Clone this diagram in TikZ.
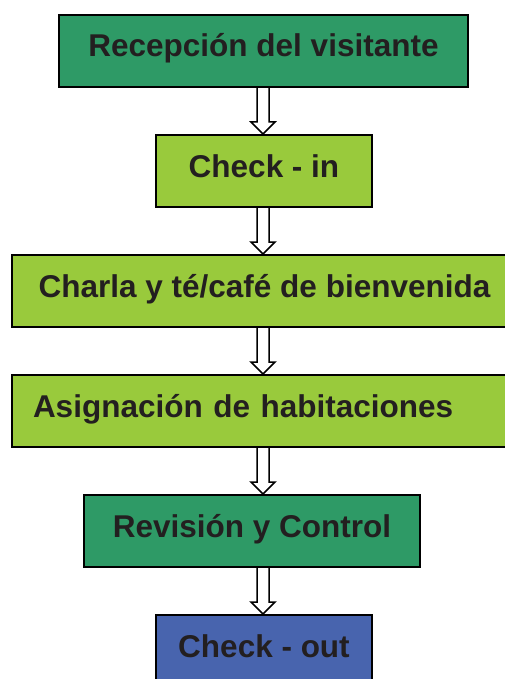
\documentclass[tikz,border=0pt]{standalone}
\usepackage{fontspec}
\setmainfont{Liberation Sans}
\usetikzlibrary{calc,backgrounds}
\definecolor{dgreen}{RGB}{46,154,102}
\definecolor{lgreen}{RGB}{153,202,60}
\definecolor{bblue}{RGB}{72,100,174}
\definecolor{txt}{RGB}{35,31,32}
\begin{document}
\begin{tikzpicture}[x=1pt,y=-1pt,
  box/.style={draw=black, line width=2pt, rectangle, minimum height=72pt, inner sep=0pt,
    text height=22pt, text depth=10pt, font=\fontsize{31.5}{36}\selectfont\bfseries,
    text=txt, anchor=north west},
  arr/.style={draw=black, line width=1.5pt, fill=white, line join=miter}]
\useasboundingbox (0,0) rectangle (505,679);
\coordinate (col) at (263,0);
\node[box, fill=dgreen, minimum width=409pt] (n1) at (58,14) {Recepción del visitante};
\node[box, fill=lgreen, minimum width=216pt] (n2) at (155,134) {Check - in};
\node[box, fill=lgreen, minimum width=505pt] (n3) at (11,254) {Charla y té/café de bienvenida};
\node[box, fill=lgreen, inner xsep=21pt, text width=463pt, align=left] (n4) at (11,374) {Asignación de habitaciones};
\node[box, fill=dgreen, minimum width=336pt] (n5) at (83,494) {Revisión y Control};
\node[box, fill=bblue, minimum width=216pt] (n6) at (155,614) {Check - out};
\begin{scope}[on background layer]
\foreach \a/\b in {n1/n2,n2/n3,n3/n4,n4/n5,n5/n6} {
  \draw[arr] ($(col |- \a.south)+(-6,0)$) -- ($(col |- \b.north)+(-6,-12)$)
    -- ($(col |- \b.north)+(-12,-12)$) -- (col |- \b.north)
    -- ($(col |- \b.north)+(12,-12)$) -- ($(col |- \b.north)+(6,-12)$)
    -- ($(col |- \a.south)+(6,0)$);
}
\end{scope}
\end{tikzpicture}
\end{document}
